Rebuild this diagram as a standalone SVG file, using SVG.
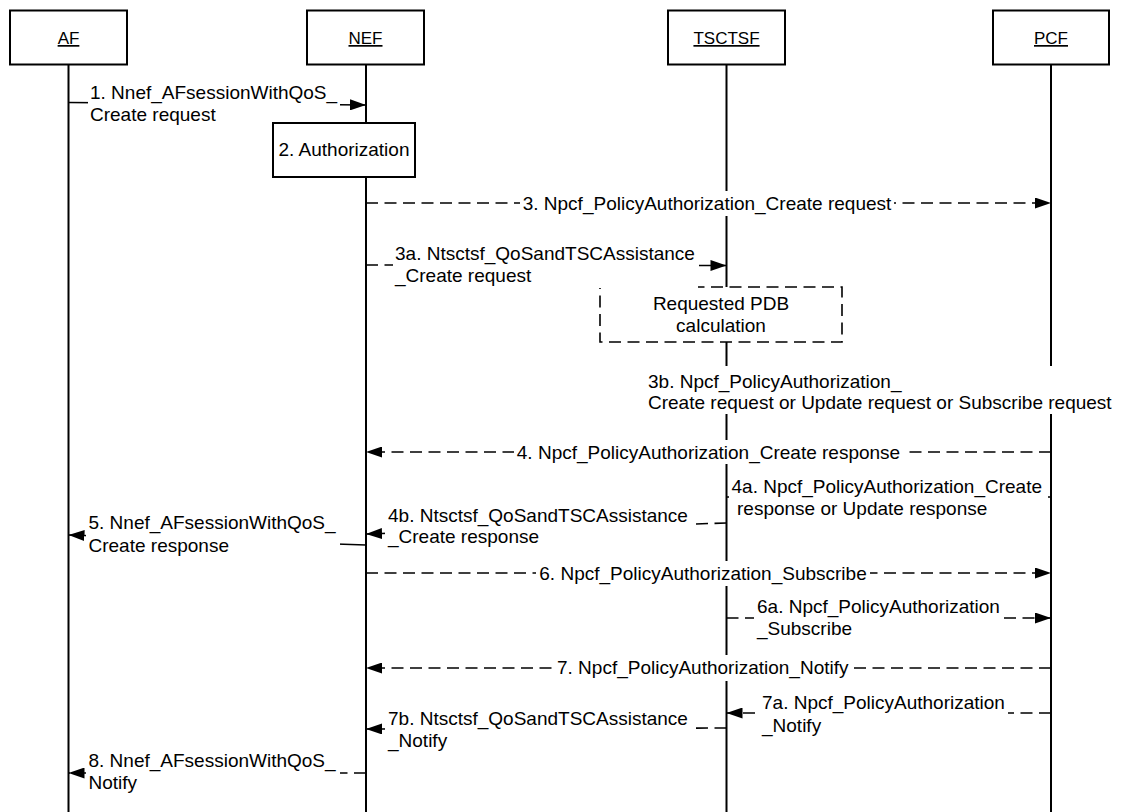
<svg xmlns="http://www.w3.org/2000/svg" width="1125" height="812" viewBox="0 0 1125 812">
<style>
 .box{fill:#fff;stroke:#000;stroke-width:2}
 .dbox{fill:#fff;stroke:#000;stroke-width:1.6;stroke-dasharray:12 6.5}
 .life{stroke:#000;stroke-width:2;fill:none}
 .hdr{font-family:"Liberation Sans",Arial,sans-serif;font-size:17px;text-anchor:middle;text-decoration:underline;fill:#000}
 .t{font-family:"Liberation Sans",Arial,sans-serif;font-size:19px;fill:#000}
 .c{text-anchor:middle}
 .sol{stroke:#000;stroke-width:1.6;fill:none}
 .dsh{stroke:#000;stroke-width:1.6;fill:none;stroke-dasharray:12 6.5}
 .bg{fill:#fff}
</style>
<defs>
 <marker id="ah" markerUnits="userSpaceOnUse" markerWidth="17" markerHeight="11" refX="16" refY="5.5" orient="auto"><path d="M0,0 L16,5.5 L0,11 z" fill="#000"/></marker>
</defs>
<g id="AF"><line class="life" x1="68.5" y1="64" x2="68.5" y2="812"/><rect class="box" x="10" y="10.5" width="117" height="54"/><text class="hdr" x="68.5" y="44">AF</text></g>
<g id="NEF"><line class="life" x1="366" y1="64" x2="366" y2="812"/><rect class="box" x="307" y="10.5" width="117" height="54"/><text class="hdr" x="365.5" y="44">NEF</text></g>
<g id="TSCTSF"><line class="life" x1="726.5" y1="64" x2="726.5" y2="812"/><rect class="box" x="668" y="10.5" width="117" height="54"/><text class="hdr" x="726.5" y="44">TSCTSF</text></g>
<g id="PCF"><line class="life" x1="1051" y1="64" x2="1051" y2="812"/><rect class="box" x="993" y="10.5" width="116" height="54"/><text class="hdr" x="1051" y="44">PCF</text></g>
<g id="Authorization"><rect class="box" x="273" y="123" width="142" height="54"/><text class="t c" x="344" y="156">2. Authorization</text></g>
<g id="PDB"><rect class="dbox" x="600" y="287" width="242" height="55"/><text class="t c" x="721" y="310">Requested PDB</text><text class="t c" x="721" y="332">calculation</text></g>
<g id="connectors">
 <line class="sol" x1="68.5" y1="102.5" x2="366" y2="105" marker-end="url(#ah)"/>
 <rect class="bg" x="88" y="84" width="252" height="26"/>
 <text class="t" x="90" y="99">1. Nnef_AFsessionWithQoS_</text><text class="t" x="90" y="120.5">Create request</text>

 <line class="dsh" x1="366" y1="203" x2="1051" y2="203" marker-end="url(#ah)"/>
 <rect class="bg" x="520" y="191" width="374" height="25"/>
 <text class="t c" x="707" y="210">3. Npcf_PolicyAuthorization_Create request</text>

 <line class="dsh" x1="366" y1="265" x2="726.5" y2="265.5" marker-end="url(#ah)"/>
 <rect class="bg" x="393" y="245" width="305" height="43"/>
 <text class="t" x="395" y="260">3a. Ntsctsf_QoSandTSCAssistance</text><text class="t" x="395" y="282">_Create request</text>

 <rect class="bg" x="643" y="366" width="478" height="48"/>
 <text class="t" x="648" y="388">3b. Npcf_PolicyAuthorization_</text><text class="t" x="648" y="409">Create request or Update request or Subscribe request</text>

 <line class="dsh" x1="1051" y1="452" x2="366" y2="452" marker-end="url(#ah)"/>
 <rect class="bg" x="514" y="440" width="389" height="24"/>
 <text class="t c" x="708.5" y="458.5">4. Npcf_PolicyAuthorization_Create response</text>

 <line class="dsh" x1="1051" y1="497" x2="726.5" y2="497"/>
 <rect class="bg" x="729" y="476" width="319" height="44"/>
 <text class="t" x="731.5" y="493">4a. Npcf_PolicyAuthorization_Create</text><text class="t" x="737" y="515">response or Update response</text>

 <line class="dsh" x1="726.5" y1="523" x2="366" y2="534" marker-end="url(#ah)"/>
 <rect class="bg" x="385" y="505" width="305" height="43"/>
 <text class="t" x="388" y="521.5">4b. Ntsctsf_QoSandTSCAssistance</text><text class="t" x="388" y="543">_Create response</text>

 <line class="sol" x1="366" y1="545" x2="68.5" y2="535" marker-end="url(#ah)"/>
 <rect class="bg" x="86" y="513" width="254" height="45"/>
 <text class="t" x="88.5" y="529">5. Nnef_AFsessionWithQoS_</text><text class="t" x="88.5" y="552">Create response</text>

 <line class="dsh" x1="366" y1="573" x2="1051" y2="573" marker-end="url(#ah)"/>
 <rect class="bg" x="536" y="561" width="334" height="25"/>
 <text class="t c" x="703" y="579.5">6. Npcf_PolicyAuthorization_Subscribe</text>

 <line class="dsh" x1="726.5" y1="618" x2="1051" y2="618" marker-end="url(#ah)"/>
 <rect class="bg" x="754" y="597" width="250" height="43"/>
 <text class="t" x="757" y="613">6a. Npcf_PolicyAuthorization</text><text class="t" x="757" y="635">_Subscribe</text>

 <line class="dsh" x1="1051" y1="668" x2="366" y2="668" marker-end="url(#ah)"/>
 <rect class="bg" x="554" y="655" width="297" height="26"/>
 <text class="t" x="557" y="674">7. Npcf_PolicyAuthorization_Notify</text>

 <line class="dsh" x1="1051" y1="713" x2="726.5" y2="713" marker-end="url(#ah)"/>
 <rect class="bg" x="759" y="693" width="249" height="44"/>
 <text class="t" x="762" y="709">7a. Npcf_PolicyAuthorization</text><text class="t" x="762" y="732">_Notify</text>

 <line class="dsh" x1="726.5" y1="728" x2="366" y2="729" marker-end="url(#ah)"/>
 <rect class="bg" x="385" y="709" width="305" height="43"/>
 <text class="t" x="388" y="725">7b. Ntsctsf_QoSandTSCAssistance</text><text class="t" x="388" y="747">_Notify</text>

 <line class="dsh" x1="366" y1="773" x2="68.5" y2="773" marker-end="url(#ah)"/>
 <rect class="bg" x="86" y="751" width="254" height="44"/>
 <text class="t" x="88.5" y="767">8. Nnef_AFsessionWithQoS_</text><text class="t" x="88.5" y="789">Notify</text>
</g>
</svg>
